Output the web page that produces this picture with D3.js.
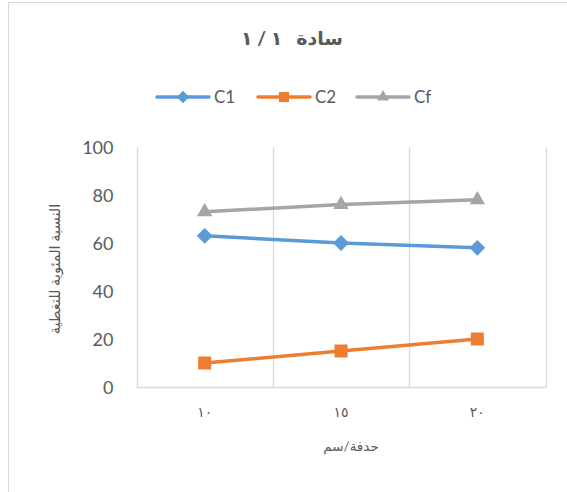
<!DOCTYPE html>
<html>
<head>
<meta charset="utf-8">
<script src="https://cdn.jsdelivr.net/npm/d3@7"></script>
<style>
  html, body { margin: 0; padding: 0; background: #fff; }
  svg { display: block; }
  text { font-family: Lato, "DejaVu Sans", sans-serif; fill: #595959; }
</style>
</head>
<body>
<svg id="chart" width="567" height="492"></svg>
<script>
// Category labels (Arabic-Indic digits) and series values
const categories = ["١٠", "١٥", "٢٠"];
const c1Values = [63, 60, 58];
const c2Values = [10, 15, 20];
const cfValues = [73, 76, 78];
const yTicks = [0, 20, 40, 60, 80, 100];

const series = [
  { name: "C1", values: c1Values, color: "#5B9BD5", marker: d3.symbolDiamond2, size: 160 },
  { name: "C2", values: c2Values, color: "#ED7D31", marker: d3.symbolSquare2, size: 215 },
  { name: "Cf", values: cfValues, color: "#A5A5A5", marker: d3.symbolTriangle2, size: 170 }
];

const svg = d3.select("#chart");

// chart frame
svg.append("rect")
  .attr("x", 8.5).attr("y", 2.5)
  .attr("width", 620).attr("height", 620)
  .attr("fill", "#fff").attr("stroke", "#D9D9D9").attr("stroke-width", 1);

const plot = { left: 136.5, right: 545.5, top: 147, bottom: 387 };

const x = d3.scaleBand().domain(categories).range([plot.left, plot.right]).paddingInner(0).paddingOuter(0);
const y = d3.scaleLinear().domain([0, 100]).range([plot.bottom, plot.top]);

// vertical gridlines at category boundaries
const bounds = categories.map(c => x(c)).concat([x(categories[categories.length - 1]) + x.bandwidth()]);
svg.append("g").selectAll("line").data(bounds).join("line")
  .attr("x1", d => Math.round(d) + 0.5).attr("x2", d => Math.round(d) + 0.5)
  .attr("y1", plot.top).attr("y2", plot.bottom)
  .attr("stroke", "#D9D9D9").attr("stroke-width", 1.3);

// category axis line
svg.append("line")
  .attr("x1", plot.left).attr("x2", plot.right + 1)
  .attr("y1", plot.bottom + 0.5).attr("y2", plot.bottom + 0.5)
  .attr("stroke", "#D9D9D9").attr("stroke-width", 1.3);

// value axis labels
const yAxis = d3.axisLeft(y).tickValues(yTicks).tickSize(0).tickPadding(0);
const gy = svg.append("g").attr("transform", `translate(${plot.left - 23},0)`).call(yAxis);
gy.select(".domain").remove();
gy.selectAll("text").attr("font-size", 18).attr("font-family", "Lato, 'DejaVu Sans', sans-serif").attr("fill", "#595959").attr("dy", "0.35em");

// category axis labels
const xAxis = d3.axisBottom(x).tickSize(0).tickPadding(0);
const gx = svg.append("g").attr("transform", `translate(0,${plot.bottom + 20})`).call(xAxis);
gx.select(".domain").remove();
gx.selectAll("text").attr("font-size", 14).attr("font-family", "'DejaVu Sans', sans-serif")
  .attr("fill", "#595959").attr("dy", "0.7em").attr("letter-spacing", "2px");

// lines and markers
const cx = c => x(c) + x.bandwidth() / 2;
series.forEach(s => {
  const pts = categories.map((c, i) => [cx(c), y(s.values[i])]);
  svg.append("path")
    .attr("d", d3.line()(pts))
    .attr("fill", "none").attr("stroke", s.color)
    .attr("stroke-width", 3.5).attr("stroke-linecap", "round").attr("stroke-linejoin", "round");
  svg.append("g").selectAll("path").data(pts).join("path")
    .attr("transform", d => `translate(${d[0]},${d[1]})`)
    .attr("d", d3.symbol().type(s.marker).size(s.size))
    .attr("fill", s.color);
});

// title
svg.append("text")
  .attr("x", 292).attr("y", 45)
  .attr("text-anchor", "middle")
  .attr("font-size", 19).attr("font-weight", "bold")
  .attr("font-family", "'DejaVu Sans', sans-serif")
  .attr("direction", "rtl")
  .style("white-space", "pre")
  .text("سادة   ١ / ١");

// legend
const legendX = [157, 258, 357];
series.forEach((s, i) => {
  const g = svg.append("g").attr("transform", `translate(${legendX[i]},97)`);
  g.append("line").attr("x1", 0).attr("x2", 52).attr("y1", 0).attr("y2", 0)
    .attr("stroke", s.color).attr("stroke-width", 3.5).attr("stroke-linecap", "round");
  g.append("path").attr("transform", "translate(26,0)")
    .attr("d", d3.symbol().type(s.marker).size(s.size * 0.6)).attr("fill", s.color);
  g.append("text").attr("x", 57).attr("y", 0).attr("dy", "0.36em")
    .attr("font-size", 17).text(s.name);
});

// axis titles
svg.append("text")
  .attr("transform", `translate(55,${(plot.top + plot.bottom) / 2 + 2}) rotate(-90)`)
  .attr("text-anchor", "middle")
  .attr("font-size", 14.5)
  .attr("font-family", "'DejaVu Sans', sans-serif")
  .attr("dy", "0.35em")
  .text("النسبة المئوية للتغطية");

svg.append("text")
  .attr("x", (plot.left + plot.right) / 2 + 10).attr("y", 451)
  .attr("text-anchor", "middle")
  .attr("font-size", 13.5)
  .attr("font-family", "'DejaVu Sans', sans-serif")
  .text("حدفة/سم");
</script>
</body>
</html>
